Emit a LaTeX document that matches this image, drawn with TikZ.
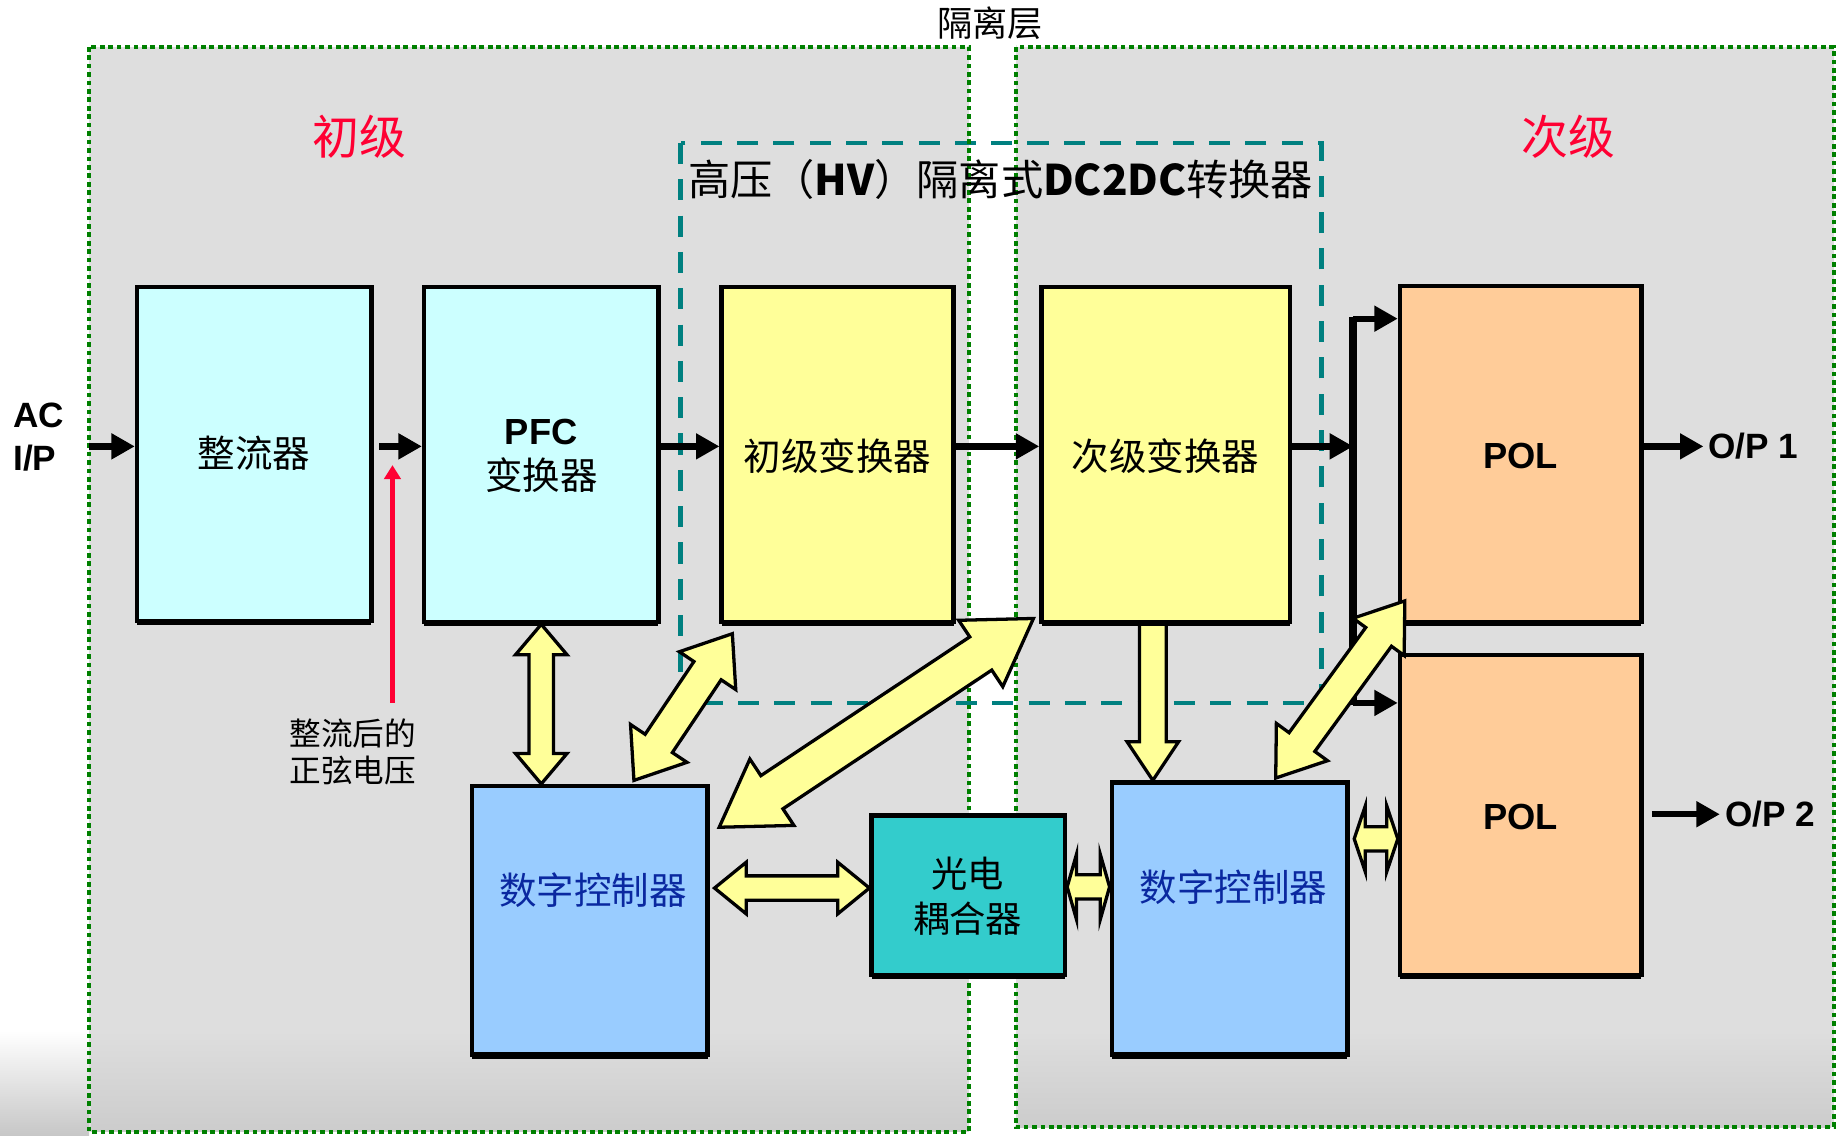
\documentclass[tikz,border=0pt]{standalone}
\usepackage{fontspec}
\setmainfont{Noto Sans CJK SC}
\newfontfamily\arial{Liberation Sans}
\usetikzlibrary{calc,arrows.meta,shadows}
\definecolor{bggray}{RGB}{222,222,222}
\definecolor{dgreen}{RGB}{0,128,0}
\definecolor{tealc}{RGB}{0,128,128}
\definecolor{cyanf}{RGB}{204,255,255}
\definecolor{yelf}{RGB}{255,255,153}
\definecolor{oraf}{RGB}{255,204,153}
\definecolor{bluef}{RGB}{153,204,255}
\definecolor{optof}{RGB}{51,204,204}
\definecolor{redt}{RGB}{255,0,51}
\definecolor{bluet}{RGB}{10,40,160}
\tikzset{
  blockbox/.style={draw=black, line width=1.9pt, inner sep=0pt,
    drop shadow={shadow xshift=0pt, shadow yshift=-1.8pt, fill=black, opacity=1}},
  yarrow/.style={draw=black, fill=yelf, line width=1.4pt, line join=miter},
  blk/.style={line width=2.7pt, -{Triangle[length=10pt,width=10.5pt]}},
  greenbox/.style={draw=dgreen, line width=1.7pt, dash pattern=on 2pt off 1.6pt},
  tealbox/.style={draw=tealc, line width=1.9pt, dash pattern=on 9pt off 6.5pt},
  cjk/.style={inner sep=0pt, font=\fontsize{16pt}{19pt}\selectfont},
}
% double block arrow: A, B, shaft half width, head half width, head length
\newcommand\blockdbl[5]{%
  \path (#1) coordinate (ba) (#2) coordinate (bb);
  \path ($(ba)!#5!(bb)$) coordinate (bc1) ($(bb)!#5!(ba)$) coordinate (bc2);
  \draw[yarrow] (ba) -- ($(bc1)!#4!90:(bb)$) -- ($(bc1)!#3!90:(bb)$)
    -- ($(bc2)!#3!-90:(ba)$) -- ($(bc2)!#4!-90:(ba)$) -- (bb)
    -- ($(bc2)!#4!90:(ba)$) -- ($(bc2)!#3!90:(ba)$)
    -- ($(bc1)!#3!-90:(bb)$) -- ($(bc1)!#4!-90:(bb)$) -- cycle;}
% single block arrow: tail A, tip B, shaft half width, head half width, head length
\newcommand\blocksgl[5]{%
  \path (#1) coordinate (ba) (#2) coordinate (bb);
  \path ($(bb)!#5!(ba)$) coordinate (bc);
  \draw[yarrow] ($(ba)!#3!90:(bb)$) -- ($(bc)!#3!-90:(ba)$) -- ($(bc)!#4!-90:(ba)$)
    -- (bb) -- ($(bc)!#4!90:(ba)$) -- ($(bc)!#3!90:(ba)$) -- ($(ba)!#3!-90:(bb)$) -- cycle;}
\begin{document}
\begin{tikzpicture}[x=0.5pt,y=-0.5pt]
\useasboundingbox (0,0) rectangle (1568,969);
\fill[white] (0,0) rectangle (1568,969);
\shade[top color=white, bottom color=black!22] (0,880) rectangle (76,969);
% panels
\fill[bggray] (76,40) rectangle (827,966);
\fill[bggray] (867,40) rectangle (1565,962);
\shade[top color=bggray, bottom color=black!20] (78,880) rectangle (825,966);
\shade[top color=bggray, bottom color=black!20] (869,880) rectangle (1563,962);
% HV dashed region
\draw[tealbox] (581,122) rectangle (1128,600);
\draw[greenbox] (76,40) rectangle (827,966);
\draw[greenbox] (867,40) rectangle (1565,962);
% headings
\node[inner sep=0pt, font=\fontsize{15pt}{15pt}\selectfont] (iso) at (845,20) {隔离层};
\node[inner sep=0pt, text=redt, font=\fontsize{20pt}{20pt}\selectfont] (prim) at (307,117) {初级};
\node[inner sep=0pt, text=redt, font=\fontsize{20pt}{20pt}\selectfont] (sec) at (1339,117) {次级};
\node[inner sep=0pt, anchor=west, font=\fontsize{18pt}{18pt}\selectfont] (title) at (587,153)
  {高压（{\bfseries HV}）隔离式{\bfseries DC2DC}转换器};
% boxes
\node[blockbox, fill=cyanf, minimum width=100pt, minimum height=142.5pt] (rect) at (217,387.5) {};
\node[blockbox, fill=cyanf, minimum width=100pt, minimum height=143pt] (pfc) at (462,388) {};
\node[blockbox, fill=yelf, minimum width=99pt, minimum height=143pt] (pc) at (715,388) {};
\node[blockbox, fill=yelf, minimum width=106pt, minimum height=143pt] (sc) at (995,388) {};
\node[blockbox, fill=oraf, minimum width=103pt, minimum height=143.5pt] (pol1) at (1298,387.5) {};
\node[blockbox, fill=oraf, minimum width=103pt, minimum height=136.5pt] (pol2) at (1298,695.5) {};
\node[blockbox, fill=bluef, minimum width=100.5pt, minimum height=114.5pt] (dcl) at (503.5,785.5) {};
\node[blockbox, fill=optof, minimum width=82.5pt, minimum height=68pt] (opto) at (826.5,764) {};
\node[blockbox, fill=bluef, minimum width=100.5pt, minimum height=116pt] (dcr) at (1049.5,784) {};
% box texts
\node[cjk] (rectt) at (217,387) {整流器};
\node[cjk, align=center] (pfct) at (462,389) {{\arial\bfseries\fontsize{15.5pt}{19pt}\selectfont PFC}\\变换器};
\node[cjk] (pct) at (715,389) {初级变换器};
\node[cjk] (sct) at (995,389) {次级变换器};
\node[inner sep=0pt, font=\arial\bfseries\fontsize{15.5pt}{15.5pt}\selectfont] (pol1t) at (1298,389) {POL};
\node[inner sep=0pt, font=\arial\bfseries\fontsize{15.5pt}{15.5pt}\selectfont] (pol2t) at (1298,697) {POL};
\node[cjk, text=bluet] (dclt) at (506,760) {数字控制器};
\node[cjk, text=bluet] (dcrt) at (1053,757) {数字控制器};
\node[cjk, align=center, font=\fontsize{15.5pt}{19pt}\selectfont] (optot) at (826,765) {光电\\耦合器};
% side texts
\node[inner sep=0pt, anchor=west, align=left, font=\arial\bfseries\fontsize{15pt}{18.5pt}\selectfont] (ac) at (11,373) {AC\\I/P};
\node[inner sep=2pt, anchor=west, font=\arial\bfseries\fontsize{15pt}{15pt}\selectfont] (op1) at (1454,381) {O/P 1};
\node[inner sep=2pt, anchor=west, font=\arial\bfseries\fontsize{15pt}{15pt}\selectfont] (op2) at (1468,695) {O/P 2};
\node[inner sep=0pt, align=center, font=\fontsize{13.5pt}{16pt}\selectfont] (rlbl) at (301,642) {整流后的\\正弦电压};
% coordinates
\coordinate (acin) at (76,381);
\coordinate (bustop) at (1155,272);
\coordinate (busbot) at (1155,600);
\coordinate (redtail) at (335,600);
\coordinate (redtip) at (335,397);
\coordinate (yh6) at (0,758);
\coordinate (yh7) at (0,757);
\coordinate (yh8) at (0,716);
% black arrows
\draw[blk] (acin) -- (acin -| rect.west);
\draw[blk] ($(rect.east |- acin)+(5,0)$) -- (pfc.west |- acin);
\draw[blk] (pfc.east |- acin) -- (pc.west |- acin);
\draw[blk] (pc.east |- acin) -- (sc.west |- acin);
\draw[blk] (sc.east |- acin) -- (bustop |- acin);
\draw[line width=3.4pt] ($(bustop)+(0,-1.5)$) -- ($(busbot)+(0,1.5)$);
\draw[blk] (bustop) -- (bustop -| pol1.west);
\draw[blk] (busbot) -- (busbot -| pol2.west);
\draw[blk] (pol1.east |- op1) -- (op1.west);
\draw[blk] ($(pol2.east |- op2)+(7,0)$) -- (op2.west);
\draw[draw=redt, line width=2pt, -{Triangle[length=6pt,width=7pt]}] (redtail) -- (redtip);
% yellow block arrows
\blockdbl{pfc.south}{pfc.south |- dcl.north}{5.2pt}{11pt}{13pt}
\blockdbl{$(pc.south west)+(11,8)$}{$(dcl.north west)+(140,-3)$}{7pt}{14.5pt}{19pt}
\blockdbl{$(sc.south west)+(-5,-5)$}{$(dcl.north east)+(8,37)$}{8.5pt}{17pt}{27pt}
\blocksgl{$(sc.south)+(-11,0)$}{$(sc.south |- dcr.north)+(-11,0)$}{5.7pt}{11pt}{16.5pt}
\blockdbl{$(pol1.south west)+(6,-20)$}{$(dcr.north east)+(-63,-2)$}{6.8pt}{13.5pt}{19pt}
\blockdbl{$(dcl.east |- yh6)+(4,0)$}{opto.west |- yh6}{5.2pt}{11pt}{13.5pt}
\blockdbl{opto.east |- yh7}{dcr.west |- yh7}{5.2pt}{14pt}{4pt}
\blockdbl{$(dcr.east |- yh8)+(4,0)$}{pol2.west |- yh8}{5.2pt}{14pt}{4.7pt}
\end{tikzpicture}
\end{document}
